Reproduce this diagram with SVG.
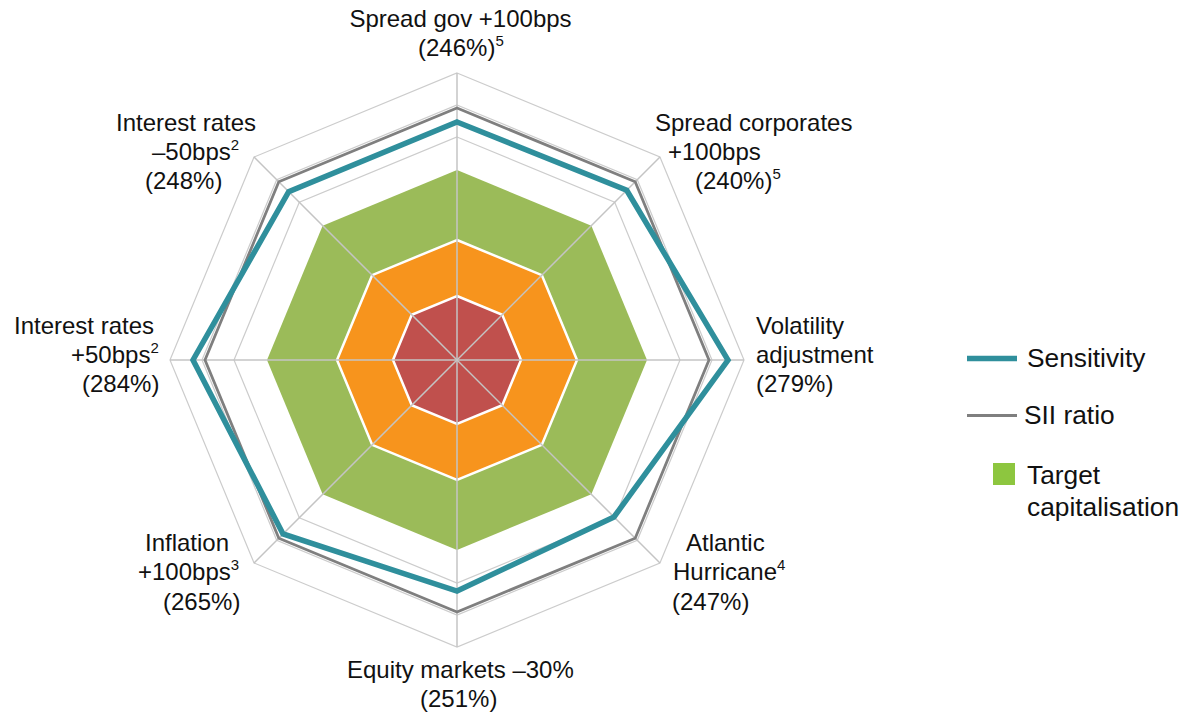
<svg xmlns="http://www.w3.org/2000/svg" width="1191" height="712" viewBox="0 0 1191 712">
<style>
.ring{fill:none;stroke:#cccccc;stroke-width:1.2}
.spoke{stroke:#c4c4c4;stroke-width:1.5}
.lbl{font-family:"Liberation Sans",Arial,sans-serif;font-size:24px;fill:#111}
.leg{font-family:"Liberation Sans",Arial,sans-serif;font-size:26.3px;fill:#111}
.sup{font-size:15px}
.sens{fill:none;stroke:#2f8f9c;stroke-width:5.5;stroke-linejoin:miter}
.sii{fill:none;stroke:#7f7f7f;stroke-width:2.8}
</style>
<rect width="1191" height="712" fill="#ffffff"/>
<g id="grid">
<polygon class="ring" points="457,73 659.94,157.06 744,360 659.94,562.94 457,647 254.06,562.94 170,360 254.06,157.06"/>
<polygon class="ring" points="457,105 637.31,179.69 712,360 637.31,540.31 457,615 276.69,540.31 202,360 276.69,179.69"/>
<polygon class="ring" points="457,137 614.69,202.31 680,360 614.69,517.69 457,583 299.31,517.69 234,360 299.31,202.31"/>
</g>
<g id="target">
<polygon fill="#9bbb59" points="457,170 591.35,225.65 647,360 591.35,494.35 457,550 322.65,494.35 267,360 322.65,225.65"/>
<polygon fill="#f7941d" stroke="#ffffff" stroke-width="2.5" points="457,240 541.85,275.15 577,360 541.85,444.85 457,480 372.15,444.85 337,360 372.15,275.15"/>
<polygon fill="#c0504d" stroke="#ffffff" stroke-width="2.5" points="457,296 502.25,314.75 521,360 502.25,405.25 457,424 411.75,405.25 393,360 411.75,314.75"/>
</g>
<g id="spokes">
<line class="spoke" x1="457" y1="360" x2="457" y2="73"/>
<line class="spoke" x1="457" y1="360" x2="659.94" y2="157.06"/>
<line class="spoke" x1="457" y1="360" x2="744" y2="360"/>
<line class="spoke" x1="457" y1="360" x2="659.94" y2="562.94"/>
<line class="spoke" x1="457" y1="360" x2="457" y2="647"/>
<line class="spoke" x1="457" y1="360" x2="254.06" y2="562.94"/>
<line class="spoke" x1="457" y1="360" x2="170" y2="360"/>
<line class="spoke" x1="457" y1="360" x2="254.06" y2="157.06"/>
</g>
<g id="series">
<polygon class="sii" points="457,108 635.19,181.81 709,360 635.19,538.19 457,612 278.81,538.19 205,360 278.81,181.81"/>
<polygon class="sens" points="457,122 626.71,190.29 728,360 613.98,516.98 457,591 283.05,533.95 193,360 288.71,191.71"/>
</g>
<g id="labels">
<text class="lbl" x="460.5" y="27" text-anchor="middle">Spread gov +100bps</text>
<text class="lbl" x="418" y="56">(246%)<tspan class="sup" dy="-10">5</tspan></text>
<text class="lbl" x="655" y="131">Spread corporates</text>
<text class="lbl" x="668" y="160">+100bps</text>
<text class="lbl" x="695" y="189">(240%)<tspan class="sup" dy="-10">5</tspan></text>
<text class="lbl" x="756" y="334">Volatility</text>
<text class="lbl" x="756" y="363">adjustment</text>
<text class="lbl" x="756" y="392">(279%)</text>
<text class="lbl" x="686" y="551">Atlantic</text>
<text class="lbl" x="673" y="580">Hurricane<tspan class="sup" dy="-10">4</tspan></text>
<text class="lbl" x="672" y="610">(247%)</text>
<text class="lbl" x="347" y="678">Equity markets –30%</text>
<text class="lbl" x="420" y="707">(251%)</text>
<text class="lbl" x="145" y="551">Inflation</text>
<text class="lbl" x="138" y="580">+100bps<tspan class="sup" dy="-10">3</tspan></text>
<text class="lbl" x="163" y="610">(265%)</text>
<text class="lbl" x="14" y="334">Interest rates</text>
<text class="lbl" x="71" y="363">+50bps<tspan class="sup" dy="-10">2</tspan></text>
<text class="lbl" x="82" y="392">(284%)</text>
<text class="lbl" x="116" y="131">Interest rates</text>
<text class="lbl" x="152" y="160">–50bps<tspan class="sup" dy="-10">2</tspan></text>
<text class="lbl" x="145" y="189">(248%)</text>
</g>
<g id="legend">
<line x1="967" y1="358.5" x2="1017" y2="358.5" stroke="#2f8f9c" stroke-width="5.5"/>
<text class="leg" x="1027" y="367">Sensitivity</text>
<line x1="967" y1="415.5" x2="1017" y2="415.5" stroke="#7f7f7f" stroke-width="2.8"/>
<text class="leg" x="1024" y="424">SII ratio</text>
<rect x="993" y="463" width="22" height="22" fill="#8dc63f"/>
<text class="leg" x="1027" y="484">Target</text>
<text class="leg" x="1027" y="516">capitalisation</text>
</g>
</svg>
